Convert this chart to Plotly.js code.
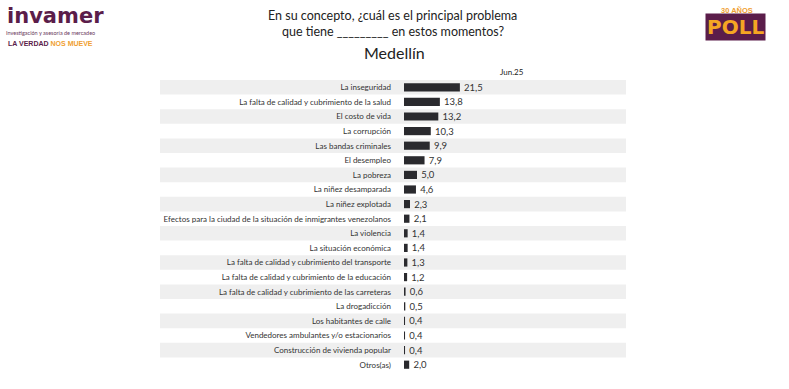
<!DOCTYPE html>
<html><head><meta charset="utf-8">
<script src="https://cdn.plot.ly/plotly-3.0.1.min.js"></script>
<style>html,body{margin:0;padding:0;background:#fff}#chart{width:789px;height:389px}</style>
</head><body><div id="chart"></div>
<script>
var categories = [
  "La inseguridad",
  "La falta de calidad y cubrimiento de la salud",
  "El costo de vida",
  "La corrupción",
  "Las bandas criminales",
  "El desempleo",
  "La pobreza",
  "La niñez desamparada",
  "La niñez explotada",
  "Efectos para la ciudad de la situación de inmigrantes venezolanos",
  "La violencia",
  "La situación económica",
  "La falta de calidad y cubrimiento del transporte",
  "La falta de calidad y cubrimiento de la educación",
  "La falta de calidad y cubrimiento de las carreteras",
  "La drogadicción",
  "Los habitantes de calle",
  "Vendedores ambulantes y/o estacionarios",
  "Construcción de vivienda popular",
  "Otros(as)"
];
var values = [21.5, 13.8, 13.2, 10.3, 9.9, 7.9, 5.0, 4.6, 2.3, 2.1, 1.4, 1.4, 1.3, 1.2, 0.6, 0.5, 0.4, 0.4, 0.4, 2.0];
var seriesName = "Jun.25";

var font = "Lato, 'Open Sans', sans-serif";
var labels = values.map(function(v){ return '\u2009' + v.toFixed(1).replace('.', ','); });

var shapes = [];
for (var i = 0; i < categories.length - 1; i++) {
  if (i % 2 === 0) {
    shapes.push({type:'rect', xref:'paper', yref:'y', x0:-1.099, x1:1, y0:i-0.5, y1:i+0.5,
      fillcolor:'#efefef', line:{width:0}, layer:'below'});
  }
}

var trace = {
  type:'bar', orientation:'h', x: values, y: categories.map(function(c,i){return i;}),
  name: seriesName,
  marker:{color:'#2a2a2e'}, width:0.56,
  text: labels, textposition:'outside', cliponaxis:false, constraintext:'none',
  textfont:{family:font, size:9.5, color:'#333'},
  hoverinfo:'none'
};

var layout = {
  width:789, height:389,
  margin:{l:404, r:163, t:80, b:17},
  paper_bgcolor:'#fff', plot_bgcolor:'rgba(0,0,0,0)',
  showlegend:false,
  xaxis:{range:[0,85.4], visible:false, fixedrange:true},
  yaxis:{tickmode:'array', tickvals:categories.map(function(c,i){return i;}), ticktext:categories,
    autorange:false, range:[categories.length-0.5, -0.5], showgrid:false, zeroline:false,
    showline:false, ticks:'', ticklabelstandoff:12,
    tickfont:{family:font, size:8, color:'#333'}},
  shapes: shapes,
  bargap:0.4,
  annotations:[
    {text:"En su concepto, ¿cuál es el principal problema", x:392, y:15},
    {text:"que tiene _________ en estos momentos?", x:393, y:31},
    {text:"Medellín", x:394, y:52, size:16},
    {text:seriesName, x:512, y:72, size:8},
    {text:"<b>invamer</b>", x:55, y:16, size:21, color:'#5b1d4a', family:"'DejaVu Sans', sans-serif"},
    {text:"Investigación y asesoría de mercadeo", x:50, y:33, size:5.5, color:'#6b3a5e'},
    {text:"<b>LA VERDAD <span style='color:#f0a030'>NOS MUEVE</span></b>", x:50, y:43, size:7, color:'#5b1d4a', family:"'Liberation Sans', sans-serif"},
    {text:"<b>30 AÑOS</b>", x:737, y:10, size:7.5, color:'#f0a030', family:"'Liberation Sans', sans-serif"},
    {text:"<b>POLL</b>", x:735, y:27, size:20, color:'#f5a623', family:"'DejaVu Sans', sans-serif", bg:'#5b1d4a'}
  ].map(function(a){
    return {text:a.text, xref:'paper', yref:'paper',
      x:(a.x-404)/222, y:(372.3-a.y)/292.3, xanchor:'center', yanchor:'middle', showarrow:false,
      font:{family:a.family||font, size:a.size||12.5, color:a.color||'#222'},
      bgcolor:a.bg||'rgba(0,0,0,0)', borderpad: a.bg?1:0};
  })
};

Plotly.newPlot('chart', [trace], layout, {staticPlot:true, displayModeBar:false});
</script></body></html>
